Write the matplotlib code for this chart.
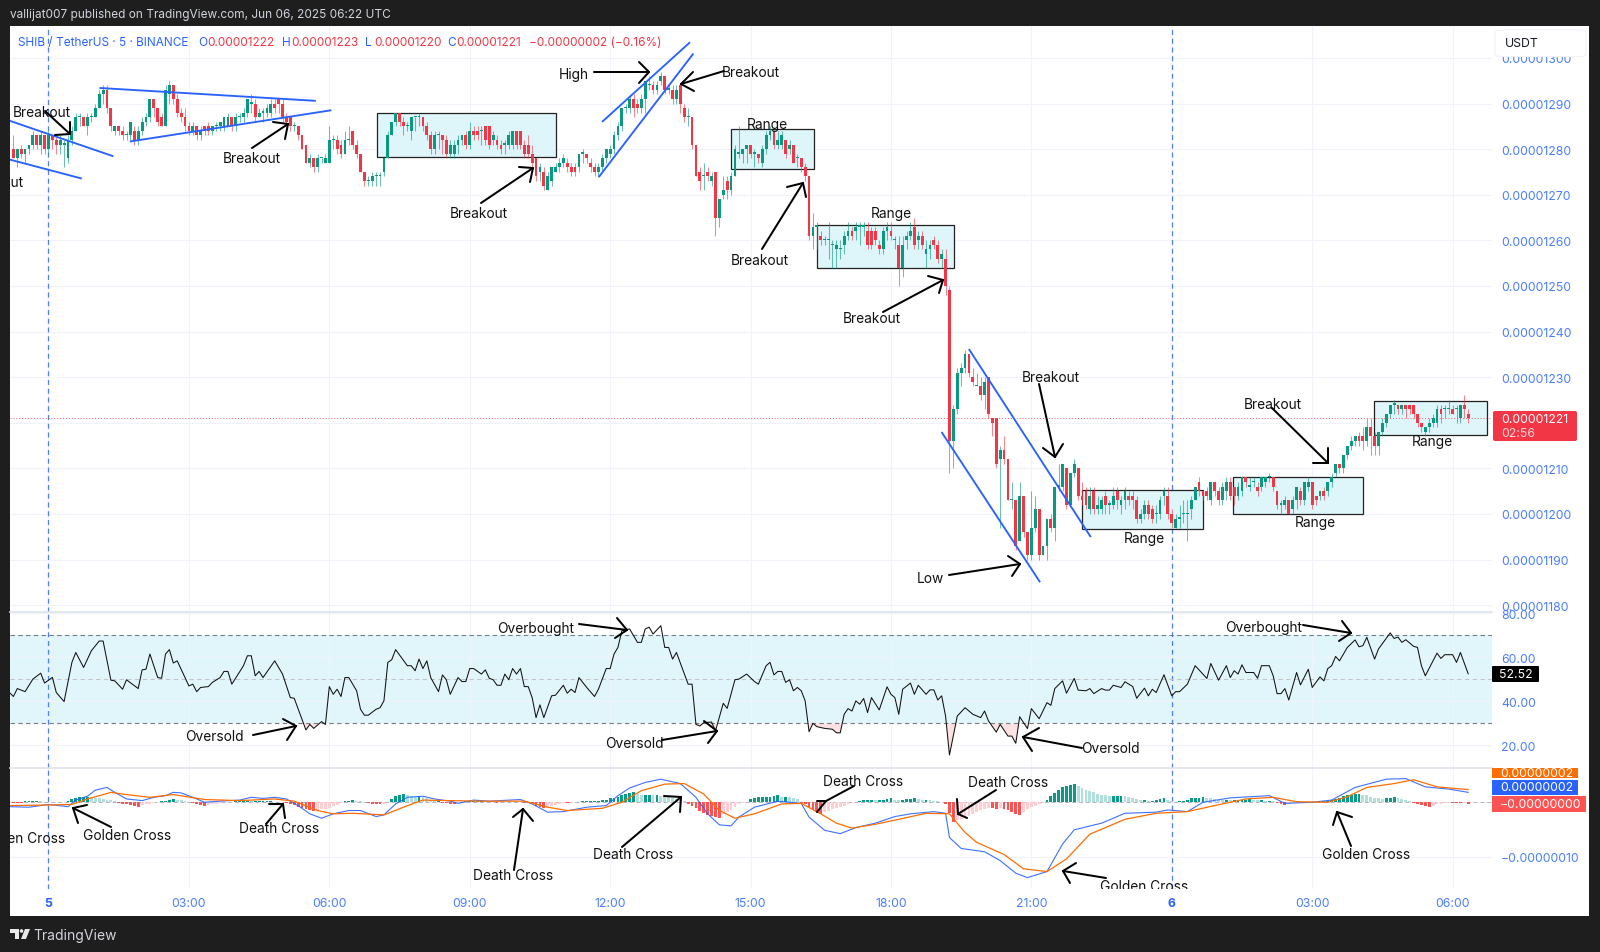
# Recreates the annotated SHIB/USDT 5 minute TradingView chart with RSI and MACD panes.
import matplotlib
matplotlib.use('Agg')
import numpy as np
from matplotlib import pyplot as plt
from matplotlib.patches import Circle, FancyBboxPatch, Polygon, Rectangle
from matplotlib.transforms import Affine2D

WIDTH, HEIGHT = 1600, 953
PX = Affine2D().scale(1, -1).translate(0, HEIGHT)  # pixel coords with origin top left

PRICE_BASE = 1200  # candle lists are offsets from this, in units of 0.00000001

# One row per ten 5 minute bars, first bar is index -9 (index 0 is midnight of the 5th)
opens = [80, 78, 80, 79, 80, 81, 83, 81, 83, 80,
         83, 82, 81, 81, 78, 82, 84, 87, 87, 85,
         87, 87, 89, 92, 93, 89, 84, 85, 84, 83,
         83, 84, 82, 84, 86, 87, 91, 89, 87, 85,
         92, 94, 91, 88, 87, 85, 84, 85, 83, 85,
         85, 84, 85, 85, 85, 85, 87, 85, 87, 87,
         88, 90, 90, 87, 88, 88, 88, 90, 91, 90,
         87, 87, 85, 85, 83, 81, 77, 78, 76, 78,
         77, 77, 82, 82, 81, 79, 82, 84, 81, 79,
         75, 73, 73, 74, 74, 75, 78, 83, 86, 88,
         86, 85, 84, 87, 87, 87, 85, 83, 80, 83,
         83, 82, 79, 79, 81, 82, 83, 81, 84, 84,
         84, 85, 85, 82, 82, 81, 81, 81, 81, 84,
         84, 81, 81, 79, 78, 75, 75, 71, 73, 75,
         76, 77, 77, 76, 76, 76, 79, 79, 77, 76,
         75, 76, 78, 79, 80, 83, 85, 89, 89, 91,
         90, 89, 91, 94, 94, 93, 95, 96, 93, 93,
         91, 94, 89, 87, 87, 81, 75, 74, 75, 73,
         75, 65, 70, 73, 71, 74, 79, 79, 80, 81,
         79, 79, 77, 80, 83, 84, 81, 81, 82, 80,
         81, 78, 78, 76, 74, 61, 63, 61, 60, 60,
         59, 58, 58, 59, 61, 62, 62, 63, 63, 62,
         62, 62, 59, 58, 62, 62, 60, 59, 54, 60,
         61, 63, 60, 61, 57, 58, 60, 59, 56, 56,
         49, 16, 23, 31, 32, 35, 30, 28, 28, 26,
         30, 21, 21, 12, 14, 12, 3, 3, -6, 4,
         -4, -9, -3, 1, -9, -7, -1, -3, 6, 6,
         10, 2, 9, 10, 4, 5, 1, 5, 1, 1,
         4, 2, 2, 5, 2, 3, 4, 4, 3, -1,
         0, 2, 1, 0, 0, 4, 4, 0, -3, -1,
         0, 0, 1, 3, 7, 5, 5, 3, 7, 5,
         3, 5, 7, 6, 4, 5, 8, 6, 7, 6,
         6, 7, 8, 8, 5, 2, 2, 3, 1, 3,
         5, 3, 6, 7, 4, 4, 5, 5, 7, 9,
         11, 10, 13, 15, 16, 17, 17, 16, 19, 17,
         15, 18, 20, 22, 24, 24, 23, 24, 24, 24,
         22, 20, 18, 19, 20, 20, 23, 23, 23, 23,
         23, 21, 24, 22]
closes = [78, 80, 79, 80, 81, 83, 81, 83, 80, 83,
          82, 81, 82, 81, 82, 84, 87, 87, 85, 87,
          87, 89, 92, 93, 89, 85, 85, 84, 83, 83,
          86, 82, 84, 86, 87, 91, 89, 86, 85, 93,
          94, 91, 88, 87, 85, 84, 85, 83, 84, 84,
          84, 85, 85, 86, 87, 87, 85, 87, 87, 88,
          91, 90, 87, 88, 88, 89, 90, 89, 90, 87,
          86, 85, 85, 83, 80, 77, 78, 76, 78, 78,
          78, 82, 82, 80, 79, 82, 82, 81, 79, 75,
          73, 73, 74, 74, 74, 78, 83, 86, 88, 86,
          85, 85, 87, 87, 87, 85, 83, 80, 83, 83,
          82, 79, 81, 81, 82, 83, 81, 84, 83, 83,
          84, 82, 81, 83, 81, 80, 81, 83, 84, 81,
          81, 79, 79, 77, 74, 76, 72, 74, 76, 76,
          77, 78, 76, 75, 75, 79, 79, 78, 76, 75,
          76, 78, 80, 80, 83, 85, 89, 89, 91, 89,
          89, 91, 95, 94, 93, 94, 96, 93, 93, 91,
          93, 90, 87, 87, 81, 74, 73, 74, 74, 74,
          65, 69, 71, 71, 74, 80, 79, 80, 81, 79,
          79, 78, 80, 83, 84, 81, 82, 83, 79, 81,
          77, 78, 76, 74, 61, 63, 63, 60, 60, 60,
          59, 59, 58, 61, 62, 61, 63, 63, 63, 59,
          59, 60, 58, 62, 63, 61, 60, 54, 59, 61,
          62, 59, 61, 59, 58, 59, 59, 56, 57, 50,
          16, 23, 31, 32, 35, 31, 29, 28, 26, 29,
          22, 20, 11, 14, 12, 3, 3, -7, 4, -4,
          -9, -3, 1, -9, -7, -1, -3, 6, 6, 11,
          2, 9, 11, 4, 3, 2, 4, 1, 2, 3,
          2, 2, 4, 3, 3, 5, 3, 3, -1, 0,
          2, 0, -1, 0, 3, 5, 0, -2, -1, -1,
          0, 0, 3, 6, 5, 4, 4, 7, 5, 3,
          6, 7, 4, 4, 6, 8, 7, 6, 7, 5,
          8, 8, 8, 6, 2, 2, 3, 0, 3, 6,
          3, 7, 7, 2, 3, 5, 4, 7, 8, 11,
          10, 13, 15, 16, 17, 16, 16, 19, 17, 15,
          18, 20, 22, 24, 24, 23, 24, 23, 23, 22,
          20, 19, 19, 20, 21, 23, 22, 23, 23, 22,
          23, 24, 23, 21]
highs = [83, 80, 81, 80, 81, 84, 83, 84, 83, 84,
         83, 83, 83, 82, 83, 85, 88, 88, 87, 88,
         88, 90, 93, 94, 94, 89, 85, 85, 85, 84,
         86, 85, 85, 87, 88, 91, 91, 89, 88, 94,
         95, 94, 92, 89, 89, 86, 86, 85, 85, 85,
         86, 85, 86, 86, 87, 88, 87, 88, 88, 89,
         91, 92, 91, 89, 89, 90, 91, 91, 91, 91,
         88, 87, 86, 85, 83, 81, 79, 78, 79, 78,
         79, 85, 83, 83, 82, 84, 85, 84, 82, 79,
         75, 74, 75, 75, 75, 78, 84, 86, 88, 88,
         87, 86, 87, 87, 88, 87, 86, 84, 84, 84,
         83, 83, 82, 82, 83, 83, 84, 86, 85, 85,
         85, 85, 85, 84, 83, 82, 82, 84, 84, 84,
         84, 82, 83, 81, 78, 77, 76, 75, 76, 77,
         78, 79, 78, 77, 77, 79, 80, 79, 78, 77,
         77, 79, 80, 81, 84, 86, 89, 90, 92, 92,
         91, 92, 95, 96, 95, 95, 97, 96, 94, 94,
         94, 94, 90, 89, 87, 81, 76, 77, 76, 75,
         75, 69, 74, 74, 75, 81, 85, 80, 81, 81,
         80, 79, 81, 84, 85, 84, 84, 84, 82, 82,
         81, 79, 78, 77, 74, 66, 64, 62, 61, 64,
         60, 60, 60, 62, 64, 63, 64, 64, 64, 64,
         63, 63, 60, 63, 64, 64, 61, 61, 61, 62,
         64, 65, 62, 62, 60, 60, 61, 60, 58, 58,
         50, 24, 32, 33, 36, 35, 32, 31, 30, 30,
         30, 21, 21, 15, 17, 12, 7, 3, 7, 4,
         -4, 5, 4, 1, -7, -1, 0, 6, 11, 11,
         10, 9, 12, 10, 7, 6, 6, 6, 4, 4,
         5, 3, 6, 6, 4, 6, 5, 5, 4, 1,
         3, 3, 2, 2, 4, 6, 6, 1, 0, 2,
         3, 3, 4, 6, 8, 5, 6, 7, 7, 6,
         7, 8, 8, 6, 7, 8, 8, 8, 8, 7,
         8, 8, 9, 8, 5, 3, 4, 3, 4, 6,
         6, 7, 8, 7, 4, 5, 6, 7, 9, 11,
         11, 13, 15, 17, 17, 18, 19, 21, 21, 18,
         18, 21, 22, 24, 25, 24, 24, 24, 24, 24,
         22, 20, 19, 21, 22, 24, 24, 24, 25, 24,
         24, 24, 26, 23]
lows = [78, 76, 78, 77, 79, 80, 80, 79, 79, 79,
        80, 79, 79, 76, 77, 81, 84, 85, 85, 83,
        86, 87, 89, 90, 88, 84, 83, 83, 82, 82,
        82, 81, 81, 83, 85, 86, 87, 85, 85, 85,
        90, 90, 87, 86, 84, 83, 83, 82, 82, 83,
        83, 83, 84, 84, 84, 85, 84, 84, 86, 86,
        87, 88, 86, 87, 86, 87, 87, 88, 88, 86,
        85, 84, 84, 82, 80, 77, 76, 75, 75, 77,
        77, 77, 80, 79, 78, 79, 81, 80, 78, 75,
        72, 72, 72, 72, 72, 74, 78, 83, 85, 85,
        83, 84, 82, 84, 85, 84, 82, 79, 79, 80,
        79, 78, 78, 78, 79, 81, 80, 80, 82, 82,
        81, 81, 80, 81, 80, 79, 79, 80, 80, 80,
        80, 78, 78, 76, 73, 73, 71, 71, 72, 75,
        75, 76, 75, 74, 74, 75, 77, 77, 75, 74,
        74, 75, 77, 78, 79, 82, 84, 88, 88, 87,
        88, 88, 88, 93, 92, 92, 94, 92, 92, 90,
        90, 88, 86, 85, 80, 74, 71, 71, 73, 72,
        61, 63, 69, 69, 70, 74, 78, 77, 77, 78,
        76, 77, 76, 79, 82, 80, 80, 80, 78, 79,
        77, 76, 75, 73, 60, 58, 58, 59, 59, 56,
        54, 54, 56, 57, 60, 60, 60, 59, 61, 58,
        58, 59, 57, 57, 60, 60, 58, 50, 52, 58,
        60, 58, 58, 58, 54, 56, 58, 55, 54, 48,
        9, 10, 22, 28, 31, 30, 28, 28, 25, 23,
        21, 17, 10, -3, 11, 3, 1, -8, -6, -5,
        -10, -10, -4, -10, -9, -10, -4, -6, 5, 5,
        1, 2, 8, 3, 2, 1, 0, 0, 0, 0,
        0, 0, 1, 1, 0, 1, 2, 1, -2, -2,
        -1, -1, -2, -2, -1, 2, -1, -3, -3, -3,
        -2, -6, -1, 3, 4, 3, 3, 2, 4, 2,
        2, 3, 3, 2, 3, 4, 6, 5, 6, 4,
        5, 6, 7, 5, 1, 0, 1, 0, 0, 1,
        2, 2, 5, 1, 2, 3, 3, 4, 6, 8,
        9, 9, 12, 14, 15, 15, 14, 15, 13, 13,
        13, 17, 19, 21, 22, 22, 22, 21, 22, 21,
        19, 18, 17, 18, 19, 19, 20, 21, 22, 22,
        20, 20, 21, 20]

rsi_bars = [-10, -9, -8, -6, -4, -2, -1, 1, 2, 4,
            6, 7, 9, 11, 13, 14, 16, 17, 19, 20,
            23, 24, 25, 26, 28, 29, 30, 31, 32, 33,
            36, 37, 38, 39, 41, 42, 44, 45, 46, 47,
            50, 51, 52, 53, 54, 55, 58, 60, 61, 62,
            63, 66, 67, 68, 70, 71, 72, 73, 74, 75,
            76, 77, 79, 80, 81, 82, 84, 85, 86, 87,
            88, 89, 92, 93, 94, 95, 96, 97, 98, 100,
            101, 102, 103, 105, 106, 107, 108, 109, 111, 112,
            113, 114, 115, 116, 117, 118, 119, 120, 121, 122,
            123, 124, 125, 126, 127, 129, 130, 132, 133, 134,
            135, 136, 138, 140, 141, 143, 144, 145, 146, 147,
            149, 151, 152, 153, 154, 155, 157, 158, 159, 160,
            161, 164, 165, 166, 167, 168, 170, 171, 173, 174,
            176, 177, 179, 181, 182, 184, 185, 186, 187, 188,
            189, 190, 191, 192, 193, 194, 195, 196, 197, 199,
            201, 202, 203, 204, 205, 206, 207, 208, 209, 210,
            211, 213, 215, 216, 217, 218, 219, 221, 222, 223,
            225, 226, 227, 228, 229, 230, 231, 233, 235, 237,
            239, 240, 241, 243, 244, 246, 247, 248, 249, 251,
            252, 254, 256, 257, 258, 260, 261, 263, 264, 266,
            267, 268, 270, 271, 272, 273, 275, 276, 278, 279,
            281, 282, 283, 284, 286, 288, 289, 290, 292, 294,
            297, 298, 300, 302, 303, 304, 305, 306, 307, 309,
            310, 311, 313, 314, 315, 316, 317, 318, 320, 321,
            323, 324, 326, 327, 328, 329, 330, 331, 333, 335,
            336, 337, 338, 340, 341, 344, 345, 346, 347, 348,
            350, 351, 352, 353, 356, 357, 358, 360, 361, 362,
            364]
rsi_values = [44, 42.2, 45.8, 44.4, 50.1, 52.8, 48.3, 50.9, 44, 39.9,
              57.7, 62.2, 55.4, 63, 67.4, 67.4, 49.6, 49.3, 45.5, 49.8,
              45.8, 54.3, 54.6, 61.5, 50.8, 50.5, 61.5, 63.5, 57.4, 58.4,
              47, 47.8, 44.4, 46.3, 46.7, 48.6, 50.8, 53.6, 53.6, 47.8,
              56.2, 60.7, 60.7, 51.6, 53.6, 50.8, 58.4, 52.4, 47, 41.7,
              41.4, 27, 29.5, 27.7, 30.8, 29.5, 46.7, 43.2, 45.5, 42.2,
              50.8, 50.8, 44.8, 36.4, 33.7, 33.7, 36.4, 37.1, 40.2, 57.7,
              58.9, 63.5, 56.2, 56.2, 53.9, 59.2, 54.9, 58.4, 50.8, 44.4,
              52, 49.8, 43.2, 50.8, 49, 49, 54.9, 54.9, 52.4, 54.3,
              50.5, 49.8, 47.3, 47.3, 52.4, 49.8, 54.9, 52.4, 54.9, 46.7,
              46.7, 41.7, 32.6, 38.4, 32.6, 42.5, 42.8, 47.3, 43.7, 45.5,
              44, 50.8, 46.3, 42.2, 45.5, 54.9, 54.9, 61.5, 64.5, 72.1,
              72.9, 66.8, 66.8, 72.9, 73.7, 70.6, 74.4, 64.5, 64.5, 59.2,
              62.2, 47.8, 47.8, 29.5, 28.8, 30.3, 30.6, 26.5, 39.1, 36.8,
              49.8, 50.1, 52.4, 49, 47.8, 56.2, 57.7, 52, 53.6, 53.6,
              48.6, 49.8, 44.8, 46.3, 44.8, 40.2, 26.2, 30, 28.5, 27.7,
              27.3, 25.7, 25.7, 34.1, 36.7, 35.6, 40.2, 38.7, 41.3, 34.9,
              41.7, 36.1, 46.6, 43.2, 41.7, 34.1, 45.5, 48.3, 43.2, 47.3,
              43.2, 45.2, 45.2, 40.6, 42.5, 33.3, 15.6, 33.3, 37.1, 34.1,
              32.6, 35.6, 31.1, 26, 29.5, 24.2, 24.2, 20.9, 33, 27.6,
              36.7, 32.1, 39.4, 38.2, 45.8, 49.3, 43.7, 50.4, 45.1, 44.8,
              45.8, 43.5, 45.8, 45.1, 45.1, 47.3, 46.3, 48.9, 46.7, 41.4,
              46, 42.5, 45.5, 44, 52.1, 42.5, 44.4, 44.4, 47.8, 56.2,
              50.4, 57.2, 49.6, 56.2, 50.8, 53.9, 52.4, 56.6, 53.1, 53.1,
              50.5, 56.2, 56.2, 51.6, 43.5, 43.5, 45.8, 40.6, 53.1, 47.5,
              54.6, 46.3, 51.1, 49.3, 54.9, 56.2, 60.4, 58.4, 64.5, 67.9,
              64.8, 65.3, 69.1, 59.2, 63.8, 71.1, 68.6, 69.2, 66.8, 68,
              65, 64.5, 56.2, 51.6, 61.9, 59.5, 61.2, 61.2, 57.7, 62.2,
              52.5]

macd_bars = [-10, -5, 0, 5, 7, 10, 12, 15, 17, 20, 24, 27, 30, 32, 34, 37, 40, 44, 49, 52,
             55, 58, 61, 64, 67, 70, 73, 77, 80, 84, 86, 89, 92, 96, 99, 103, 105, 109, 113, 121,
             124, 128, 132, 138, 143, 146, 149, 153, 157, 162, 166, 169, 172, 175, 177, 181, 187, 193, 195, 199,
             203, 207, 212, 217, 221, 227, 230, 231, 234, 240, 244, 248, 251, 256, 260, 263, 270, 276, 284, 287,
             292, 296, 303, 313, 317, 324, 329, 335, 343, 348, 353, 359, 364]
macd_values = [-0.9, -1.0, -0.5, -0.9, 0.3, 1.0, 2.1, 2.6, 1.7, 0.5, 0.2, 0.8, 1.1, 1.7, 1.6, 0.8, -0.1, 0.1, 0.3, 0.8,
               0.6, 0.8, 0.5, -0.7, -2.2, -3.0, -2.2, -1.6, -1.6, -2.7, -2.4, -0.4, 0.8, 1.0, 0.5, 0.1, -0.3, 0.3, 0.1, 0.4,
               -0.4, -1.9, -1.8, -1.0, -0.7, 1.1, 2.5, 3.5, 4.1, 3.3, 0.8, -2.2, -4.2, -4.4, -2.8, -1.0, 0.1, -0.3, -2.8, -5.2,
               -5.8, -4.7, -3.9, -2.7, -2.2, -1.8, -2.1, -6.5, -8.5, -9.1, -10.7, -13.0, -13.8, -12.7, -7.7, -5.1, -3.9, -2.1, -1.9, -1.5,
               -1.8, -0.1, 0.7, 1.1, -0.3, -0.1, 0.3, 2.6, 4.1, 4.2, 2.7, 2.3, 1.7]
signal_bars = [-10, 0, 6, 10, 16, 20, 26, 32, 40, 49, 58, 63, 69, 73, 78, 86, 91, 96, 103, 111,
               122, 128, 133, 142, 147, 152, 158, 163, 168, 172, 176, 181, 188, 193, 198, 202, 206, 212, 218, 225,
               231, 235, 238, 245, 250, 256, 261, 267, 276, 284, 292, 299, 307, 314, 320, 328, 333, 338, 345, 350,
               356, 364]
signal_values = [-0.7, -0.6, -0.5, 0.5, 1.7, 1.3, 0.8, 1.3, 0.4, 0.2, 0.5, 0.1, -1.6, -2.2, -2.1, -2.4, -1.0, 0.3, 0.2, 0.1,
                 0.1, -1.0, -1.6, -1.2, -0.1, 2.0, 3.2, 3.3, 1.4, -1.6, -3.0, -2.2, -0.4, -0.3, -2.2, -3.9, -4.8, -4.1, -3.2, -2.1,
                 -2.2, -5.6, -7.4, -9.6, -12.2, -12.7, -10.4, -5.9, -3.2, -2.1, -1.8, -0.7, 0.5, 0.8, 0, -0.1, 0.9, 2.6, 3.3, 4.0,
                 2.7, 2.2]
# Histogram has one value per bar, starting at index -9 like the candles
hist_values = [-0.2, -0.2, -0.2, 0.1, 0.2, 0.2, 0.2, 0.1, -0.1, -0.1,
               -0.1, -0.1, -0.1, 0, 0.2, 0.5, 0.7, 0.8, 0.9, 0.9,
               0.8, 0.7, 0.6, 0.5, 0.4, 0.3, 0.1, -0.2, -0.4, -0.5,
               -0.6, -0.8, -0.9, -0.6, -0.5, -0.4, -0.3, -0.1, 0.1, 0.2,
               0.3, 0.5, 0.4, 0.3, 0.2, 0, -0.2, -0.5, -0.6, -0.8,
               -0.6, -0.5, -0.4, -0.2, -0.1, -0.1, 0, 0.1, 0.1, 0.1,
               0.2, 0.1, 0.1, 0.1, 0.1, 0.1, 0.1, 0, 0, -0.1,
               -0.2, -0.4, -0.6, -0.9, -1.1, -1.3, -1.5, -1.6, -1.5, -1.4,
               -1.3, -1.1, -0.8, -0.6, -0.3, 0.1, 0.2, 0.3, 0.2, 0.1,
               0, -0.2, -0.4, -0.5, -0.5, -0.4, -0.1, 0.5, 1.0, 1.3,
               1.4, 1.2, 1.1, 0.9, 1.0, 0.9, 0.6, 0.4, 0.2, 0.2,
               -0.2, -0.3, -0.4, -0.5, -0.3, -0.1, 0.1, 0.1, 0.1, 0.1,
               0.1, 0, 0, -0.1, -0.2, -0.1, -0.1, 0, -0.1, -0.1,
               -0.1, -0.2, -0.2, -0.4, -0.7, -1.0, -1.2, -0.9, -0.8, -0.6,
               -0.5, -0.3, -0.3, -0.2, -0.1, 0, 0.1, 0.1, 0.1, 0.2,
               0.2, 0.3, 0.4, 0.6, 0.7, 0.9, 1.2, 1.4, 1.6, 1.7,
               1.4, 1.3, 1.3, 1.3, 1.2, 1.2, 1.1, 1.0, 0.9, 0.7,
               0.5, 0.3, 0.1, -0.4, -0.8, -1.2, -1.7, -2.1, -2.5, -2.6,
               -2.8, -2.9, -2.3, -1.9, -1.5, -1.0, -0.5, -0.2, 0, 0.5,
               0.7, 0.8, 0.8, 0.8, 0.9, 1.0, 1.2, 0.9, 0.9, 0.8,
               0.7, 0.5, -0.3, -0.5, -1.0, -1.5, -1.9, -2.2, -1.8, -1.6,
               -1.4, -1.2, -1.0, -0.7, -0.5, -0.3, -0.1, 0.2, 0.3, 0.4,
               0.4, 0.3, 0.3, 0.4, 0.5, 0.6, 0.4, 0.3, 0.4, 0.5,
               0.5, 0.6, 0.5, 0.4, 0.4, 0.3, 0.2, 0.1, 0, -0.4,
               -2.0, -3.7, -3.4, -3.2, -2.9, -2.6, -2.2, -1.8, -1.5, -1.3,
               -1.1, -1.2, -1.3, -1.2, -1.3, -1.5, -1.9, -2.3, -2.4, -1.9,
               -1.4, -1.0, -0.8, -0.5, -0.2, 0.4, 1.0, 1.6, 2.1, 2.6,
               2.8, 3.0, 3.2, 2.8, 2.5, 2.2, 2.0, 1.7, 1.4, 1.3,
               1.2, 1.1, 1.1, 1.1, 1.1, 1.0, 0.9, 0.6, 0.5, 0.3,
               0.3, 0.2, 0.2, 0.3, 0.5, 0.6, 0.3, 0.1, 0, 0.1,
               0.2, 0.4, 0.6, 0.7, 0.7, 0.8, 0.7, 0.6, 0.5, 0.4,
               0.3, 0.4, 0.3, 0.3, 0.3, 0.3, 0.4, 0.5, 0.4, 0.3,
               0.3, 0.2, 0.2, 0.1, -0.2, -0.4, -0.6, -0.5, -0.2, 0,
               -0.1, 0, 0, 0, 0, 0, 0.1, 0.2, 0.3, 0.5,
               0.7, 1.0, 1.2, 1.3, 1.4, 1.4, 1.3, 1.2, 0.9, 0.7,
               0.6, 0.5, 0.6, 0.7, 0.8, 0.7, 0.5, 0.3, 0.1, -0.2,
               -0.4, -0.6, -0.8, -0.9, -0.8, -0.5, -0.4, -0.3, -0.2, -0.2,
               -0.2, -0.3, -0.2, -0.4]

time_ticks = [0, 36, 72, 108, 144, 180, 216, 252, 288, 324, 360]
time_labels = ['5', '03:00', '06:00', '09:00', '12:00', '15:00', '18:00', '21:00', '6', '03:00', '06:00']

# Range boxes: first bar, last bar, low price, high price
range_boxes = [(84.2, 130, 1278.2, 1288), (175, 196.2, 1275.6, 1284.5), (197.1, 232.1, 1253.9, 1263.4),
               (265.1, 296, 1196.7, 1205.2), (303.8, 337, 1200, 1208.2), (339.9, 368.8, 1217.3, 1224.7)]
# Trend lines: bar, price, bar, price
trend_lines = [(-9.9, 1286.2, 16.4, 1278.5), (-9.9, 1277.7, 8.3, 1273.6), (13.3, 1293.4, 68.3, 1290.6),
               (21.1, 1281.7, 72.3, 1288.5), (142.1, 1286.1, 164.3, 1303.3), (141.2, 1274, 165.2, 1300.8),
               (236.1, 1236, 267.1, 1195.1), (229.1, 1217.8, 254.1, 1185.2)]

# Hand drawn notes in pixels: text, x, y
main_notes = [('Breakout', 42, 113), ('Breakout', 252, 159), ('Breakout', 479, 214), ('High', 574, 75),
              ('Breakout', 751, 73), ('Range', 767, 125), ('Breakout', 759.5, 261), ('Range', 891, 214),
              ('Breakout', 872, 319), ('Breakout', 1051, 378), ('Low', 930, 579), ('Range', 1144, 539),
              ('Breakout', 1273, 405), ('Range', 1315, 523), ('Range', 1432, 442)]
rsi_notes = [('Overbought', 536, 629), ('Oversold', 214, 737), ('Oversold', 634, 744),
             ('Overbought', 1264, 628), ('Oversold', 1110, 749)]
macd_notes = [('Golden Cross', 127, 836), ('Death Cross', 279, 829), ('Death Cross', 513, 876),
              ('Death Cross', 633, 855), ('Death Cross', 863, 782), ('Death Cross', 1008, 783),
              ('Golden Cross', 1144, 887), ('Golden Cross', 1366, 855)]
# Hand drawn arrows in pixels: tail, tip, barb, barb
main_arrows = [((45, 112), (70, 135), (55, 136), (70, 123)), ((252, 149), (288, 125), (273, 123), (285, 140)),
               ((481, 204), (533, 169), (519, 168), (530, 183)), ((594, 73), (649, 73), (639, 63), (639, 84)),
               ((724, 72), (681, 85), (693, 73), (694, 92)), ((762, 250), (803, 184), (787, 188), (806, 198)),
               ((883, 313), (943, 281), (928, 277), (939, 294)), ((1039, 385), (1055, 458), (1043, 449), (1063, 445)),
               ((949, 576), (1020, 565), (1008, 557), (1012, 577)), ((1272, 409), (1328, 464), (1313, 464), (1328, 449))]
rsi_arrows = [((579, 625), (627, 631), (617, 619), (615, 639)), ((253, 736), (296, 727), (283, 720), (287, 741)),
              ((662, 741), (717, 732), (704, 722), (708, 744)), ((1303, 626), (1351, 634), (1342, 622), (1339, 642)),
              ((1082, 749), (1023, 738), (1039, 729), (1032, 752))]
macd_arrows = [((111, 828), (73, 809), (87, 806), (78, 824)), ((266, 825), (283, 805), (269, 805), (285, 819)),
               ((514, 871), (523, 810), (513, 818), (533, 822)), ((622, 848), (681, 798), (664, 797), (680, 813)),
               ((854, 787), (826, 802), (817, 802), (817, 813)), ((996, 791), (958, 815), (957, 800), (967, 819)),
               ((1106, 879), (1063, 872), (1076, 864), (1070, 884)), ((1351, 847), (1337, 813), (1333, 826), (1352, 818))]

GREEN = '#089981'
RED = '#f23645'
BLUE = '#2962ff'
AXIS_BLUE = '#4a7dff'
GRID = '#f0f3fa'
BAND = '#e1f6fb'
NOTE_SIZE = 9.9
AXIS_SIZE = 8.8
LEGEND_SIZE = 8.5
BAR_LEFT, BAR_RIGHT = -9.87, 370.1


def add_pane(fig, top, bottom, ylim):
    """Adds one chart pane given its top and bottom in pixels."""
    ax = fig.add_axes([10 / WIDTH, 1 - bottom / HEIGHT, 1482 / WIDTH, (bottom - top) / HEIGHT])
    ax.set_xlim(BAR_LEFT, BAR_RIGHT)
    ax.set_ylim(*ylim)
    for spine in ax.spines.values():
        spine.set_visible(False)
    ax.yaxis.tick_right()
    ax.tick_params(axis='y', length=0, pad=6.5, labelsize=AXIS_SIZE, labelcolor=AXIS_BLUE)
    ax.tick_params(axis='x', length=0, labelbottom=False)
    ax.set_xticks(time_ticks)
    ax.grid(True, color=GRID, linewidth=0.8, zorder=0)
    ax.set_axisbelow(True)
    for bar in (0, 288):  # session start markers
        ax.axvline(bar, color=BLUE, linestyle=(0, (4, 3)), linewidth=0.9, alpha=0.8, zorder=1.5)
    return ax


def draw_notes(ax, notes, arrows):
    """Draws the hand written labels and arrows of one pane, clipped to it."""
    for label, x, y in notes:
        ax.text(x, y, label, transform=PX, ha='center', va='center', fontsize=NOTE_SIZE,
                color='#111111', clip_on=True, zorder=6)
    for tail, tip, barb_a, barb_b in arrows:
        for start in (tail, barb_a, barb_b):
            ax.plot([start[0], tip[0]], [start[1], tip[1]], transform=PX, color='black',
                    linewidth=1.45, solid_capstyle='round', zorder=6)


def plot_candles(ax):
    bars = np.arange(-9, -9 + len(closes))
    o = np.array(opens) + PRICE_BASE
    c = np.array(closes) + PRICE_BASE
    up = c >= o
    colors = np.where(up, GREEN, RED)
    ax.vlines(bars, np.array(lows) + PRICE_BASE, np.array(highs) + PRICE_BASE, colors=colors,
              linewidth=0.75, alpha=0.6, zorder=3)
    bottom = np.minimum(o, c)
    height = np.maximum(np.abs(c - o), 0.3)
    ax.bar(bars, height, bottom=bottom, width=0.72, color=colors, linewidth=0, zorder=4)


def plot_main(ax):
    for first, last, low, high in range_boxes:
        ax.add_patch(Rectangle((first, low), last - first, high - low, facecolor='#def5fa',
                               edgecolor='#222222', linewidth=0.9, zorder=2))
    plot_candles(ax)
    for x0, y0, x1, y1 in trend_lines:
        ax.plot([x0, x1], [y0, y1], color=BLUE, linewidth=1.35, zorder=5)
    ax.axhline(1221, color=RED, linestyle=(0, (1, 2)), linewidth=0.7, alpha=0.8, zorder=3)
    ticks = np.arange(1180, 1301, 10)
    ax.set_yticks(ticks)
    ax.set_yticklabels([f'{t * 1e-8:.8f}' for t in ticks])


def plot_rsi(ax):
    bars = np.array(rsi_bars)
    values = np.array(rsi_values)
    ax.axhspan(30, 70, color=BAND, linewidth=0, zorder=0.5)
    ax.fill_between(bars, values, 30, where=values < 30, interpolate=True, color=RED, alpha=0.15,
                    linewidth=0, zorder=1)
    for level, shade in ((70, '#787b86'), (30, '#787b86'), (50, '#c2c5c9')):
        ax.axhline(level, color=shade, linestyle=(0, (4, 3)), linewidth=0.8, zorder=1.5)
    ax.plot(bars, values, color='#111111', linewidth=0.75, zorder=4)
    ax.set_yticks([20, 40, 60, 80])
    ax.set_yticklabels(['20.00', '40.00', '60.00', '80.00'])


def plot_macd(ax):
    bars = np.arange(-9, -9 + len(hist_values))
    values = np.array(hist_values)
    change = np.diff(values, prepend=values[0])
    colors = np.where(values >= 0, np.where(change >= 0, '#0b9a86', '#b2dfdb'),
                      np.where(change <= 0, '#ff5252', '#ffcdd2'))
    ax.axhline(0, color='#b2b5be', linestyle=(0, (4, 3)), linewidth=0.7, zorder=1)
    ax.bar(bars, values, width=0.72, color=colors, linewidth=0, zorder=2)
    ax.plot(macd_bars, macd_values, color=BLUE, linewidth=0.8, alpha=0.9, solid_joinstyle='round', zorder=3)
    ax.plot(signal_bars, signal_values, color='#ff6d00', linewidth=0.9, solid_joinstyle='round', zorder=4)
    ax.set_yticks([-10, 0])
    ax.set_yticklabels(['\u22120.00000010', ''])
    ax.tick_params(axis='x', labelbottom=True, labelsize=AXIS_SIZE, labelcolor=AXIS_BLUE, pad=6)
    ax.set_xticklabels(time_labels)
    for label in ax.get_xticklabels():
        if label.get_text() in ('5', '6'):
            label.set_fontweight('bold')
            label.set_color(BLUE)


def add_text(fig, x, y, label, color, size=AXIS_SIZE, ha='left', **kwargs):
    fig.text(x, y, label, transform=PX, color=color, fontsize=size, ha=ha, va='center', zorder=8, **kwargs)


def add_tag(fig, x0, y0, x1, y1, color, label):
    fig.add_artist(Rectangle((x0, y0), x1 - x0, y1 - y0, transform=PX, facecolor=color, linewidth=0, zorder=7))
    add_text(fig, x0 + 8, (y0 + y1) / 2, label, 'white')


def add_frame(fig):
    """Window chrome: header, legend, scale box, price tags and the logo."""
    fig.add_artist(Rectangle((10, 27), 1579, 890, transform=PX, facecolor='white', linewidth=0, zorder=-1))
    add_text(fig, 10, 15.5, 'vallijat007 published on TradingView.com, Jun 06, 2025 06:22 UTC', '#d1d4dc',
             size=LEGEND_SIZE)

    add_text(fig, 18, 43.5, 'SHIB / TetherUS \u00b7 5 \u00b7 BINANCE', BLUE, size=LEGEND_SIZE)
    for key_x, key, value_x, value in ((198, 'O', 207, '0.00001222'), (282, 'H', 291, '0.00001223'),
                                       (365, 'L', 374, '0.00001220'), (447, 'C', 456, '0.00001221')):
        add_text(fig, key_x, 43.5, key, BLUE, size=LEGEND_SIZE)
        add_text(fig, value_x, 43.5, value, RED, size=LEGEND_SIZE)
    add_text(fig, 529, 43.5, '\u22120.00000002 (\u22120.16%)', RED, size=LEGEND_SIZE)

    fig.add_artist(FancyBboxPatch((1495, 31), 91, 26.5, boxstyle='round,pad=0,rounding_size=4', transform=PX,
                                  facecolor='white', edgecolor='#f0f3fa', linewidth=0.8, zorder=7))
    add_text(fig, 1505, 44, 'USDT', '#131722')

    fig.add_artist(FancyBboxPatch((1493, 412), 84, 30, boxstyle='round,pad=0,rounding_size=2', transform=PX,
                                  facecolor=RED, linewidth=0, zorder=7))
    add_text(fig, 1501, 420, '0.00001221', 'white')
    add_text(fig, 1501, 434, '02:56', '#ffd5d9')

    fig.add_artist(FancyBboxPatch((1492, 667), 47, 16, boxstyle='round,pad=0,rounding_size=1', transform=PX,
                                  facecolor='black', linewidth=0, zorder=7))
    add_text(fig, 1515.5, 675, '52.52', 'white', ha='center')

    add_tag(fig, 1492, 769, 1578, 779, '#ff6d00', '0.00000002')
    add_tag(fig, 1492, 781, 1578, 796, BLUE, '0.00000002')
    add_tag(fig, 1492, 797, 1586, 813, '#ff5252', '\u22120.00000000')

    # TradingView logo and name
    fig.add_artist(Polygon([(10, 930), (19, 930), (19, 940), (15, 940), (15, 934), (10, 934)], transform=PX,
                           facecolor='#e8e8e8', linewidth=0, zorder=7))
    fig.add_artist(Circle((21.5, 932), 1.8, transform=PX, facecolor='#e8e8e8', linewidth=0, zorder=7))
    fig.add_artist(Polygon([(25, 930), (30, 930), (26, 940), (21, 940)], transform=PX,
                           facecolor='#e8e8e8', linewidth=0, zorder=7))
    add_text(fig, 33, 936, 'TradingView', '#d1d4dc', size=10)


plt.rcParams['font.family'] = ['Inter', 'DejaVu Sans']
fig = plt.figure(figsize=(WIDTH / 100, HEIGHT / 100), dpi=100, facecolor='#1e1e1e')
add_frame(fig)

ax_main = add_pane(fig, 27, 613, (1178.5, 1307.0))
ax_rsi = add_pane(fig, 613, 769, (9.7, 80.6))
ax_macd = add_pane(fig, 769, 890, (-15.87, 6.13))

plot_main(ax_main)
plot_rsi(ax_rsi)
plot_macd(ax_macd)

draw_notes(ax_main, main_notes, main_arrows)
draw_notes(ax_rsi, rsi_notes, rsi_arrows)
draw_notes(ax_macd, macd_notes, macd_arrows)

# Labels cut off by the left edge of the chart
ax_main.text(23.5, 183, 'Breakout', transform=PX, ha='right', va='center', fontsize=NOTE_SIZE,
             color='#111111', clip_on=True, zorder=6)
ax_macd.text(65, 839, 'Golden Cross', transform=PX, ha='right', va='center', fontsize=NOTE_SIZE,
             color='#111111', clip_on=True, zorder=6)

# Pane separators
for y in (613, 769):
    fig.add_artist(plt.Line2D([10, 1492], [y, y], transform=PX, color='#e0e3eb', linewidth=1.2, zorder=2))

fig.savefig('out.png', dpi=100, facecolor=fig.get_facecolor())
